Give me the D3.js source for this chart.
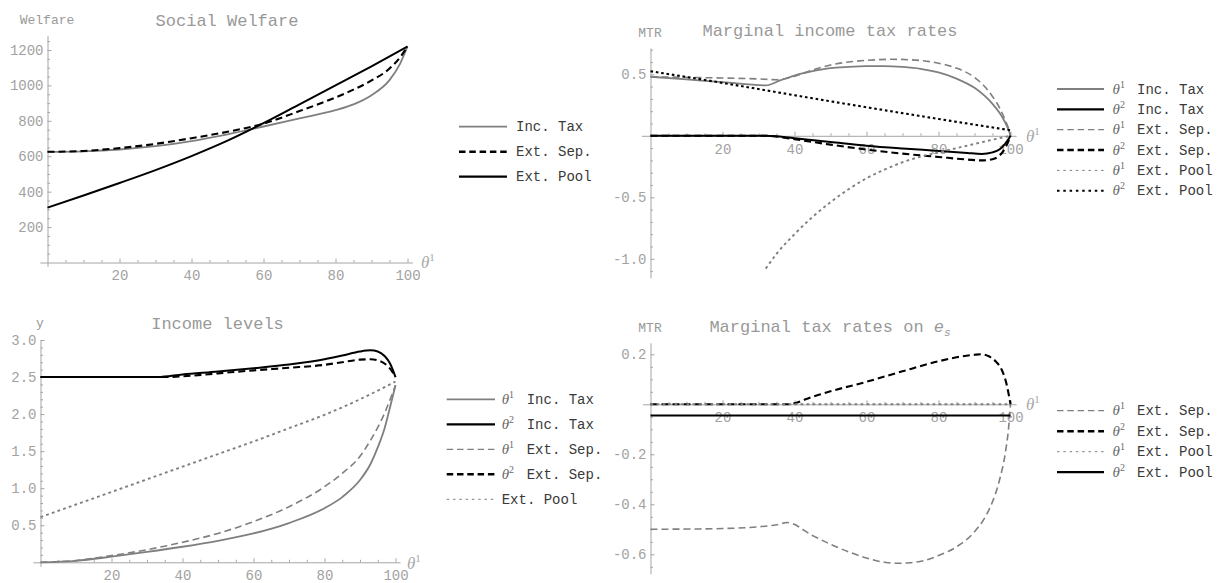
<!DOCTYPE html>
<html><head><meta charset="utf-8">
<script src="https://cdn.jsdelivr.net/npm/d3@7/dist/d3.min.js"></script>
<style>
body{margin:0;background:#fff;}
svg text{font-family:"Liberation Mono","Courier New",monospace;}
</style></head><body>
<svg id="c" width="1218" height="583"></svg>
<script>
// ---------------- DATA ----------------
const xMajorTicks = [20, 40, 60, 80, 100];
const welfareYTicks = [200, 400, 600, 800, 1000, 1200];
const mtrIncYTicks = [-1.0, -0.5, 0.5];
const incomeYTicks = [0.5, 1.0, 1.5, 2.0, 2.5, 3.0];
const mtrEsYTicks = [-0.6, -0.4, -0.2, 0.2];

// Panel 1: Social Welfare
const welfareIncTax = [[0,625],[10,628],[20,638],[30,657],[40,686],[50,724],[60,768],[70,814],[80,860],[85,893],[90,945],[95,1030],[98,1125],[100,1220]];
const welfareExtSep = [[0,625],[10,630],[20,646],[30,670],[40,702],[50,738],[60,784],[70,855],[80,932],[85,976],[90,1028],[95,1095],[98,1160],[100,1220]];
const welfareExtPool = [[0,310],[10,378],[20,449],[30,522],[40,601],[50,688],[60,787],[70,893],[80,1000],[90,1108],[100,1220]];

// Panel 2: Marginal income tax rates
const mtrIncTheta1 = [[0,0.48],[10,0.458],[20,0.436],[32,0.41],[36,0.45],[40,0.49],[45,0.525],[50,0.55],[55,0.56],[60,0.566],[65,0.567],[70,0.56],[75,0.545],[80,0.515],[85,0.465],[90,0.39],[93,0.32],[95,0.26],[97,0.185],[98.5,0.11],[99.5,0.045],[100,0]];
const mtrIncTheta2 = [[0,0],[32,0],[40,-0.02],[50,-0.05],[60,-0.08],[70,-0.103],[80,-0.123],[88,-0.14],[92,-0.147],[95,-0.135],[97,-0.11],[98.5,-0.065],[99.5,-0.025],[100,0]];
const mtrSepTheta1 = [[0,0.48],[10,0.475],[20,0.47],[30,0.462],[35,0.456],[38,0.468],[40,0.485],[45,0.535],[50,0.575],[55,0.6],[60,0.613],[67,0.622],[75,0.612],[80,0.59],[85,0.55],[90,0.475],[93,0.395],[95,0.32],[97,0.225],[98.5,0.13],[99.5,0.055],[100,0]];
const mtrSepTheta2 = [[0,0],[32,0],[40,-0.028],[50,-0.072],[60,-0.112],[70,-0.145],[80,-0.172],[88,-0.193],[92,-0.2],[95,-0.19],[97,-0.16],[98.5,-0.1],[99.5,-0.04],[100,0]];
const mtrPoolTheta1 = [[32,-1.08],[35,-0.96],[40,-0.8],[45,-0.66],[50,-0.54],[55,-0.435],[60,-0.345],[65,-0.275],[70,-0.215],[75,-0.17],[80,-0.135],[85,-0.1],[90,-0.066],[95,-0.032],[100,0]];
const mtrPoolTheta2 = [[0,0.525],[20,0.43],[32,0.37],[40,0.33],[60,0.232],[80,0.137],[100,0.045]];

// Panel 3: Income levels
const incIncTheta1 = [[0,0],[10,0.02],[20,0.076],[30,0.14],[40,0.21],[50,0.29],[60,0.39],[70,0.53],[80,0.73],[85,0.88],[90,1.11],[93,1.33],[95,1.55],[97,1.82],[98.5,2.1],[100,2.39]];
const incIncTheta2 = [[0,2.5],[33,2.5],[40,2.535],[50,2.575],[60,2.62],[70,2.67],[80,2.74],[85,2.79],[90,2.845],[93,2.86],[95,2.845],[97,2.78],[98.5,2.68],[100,2.5]];
const incSepTheta1 = [[0,0],[10,0.025],[20,0.09],[30,0.17],[40,0.27],[50,0.39],[60,0.55],[70,0.75],[80,1.02],[85,1.2],[90,1.43],[93,1.65],[95,1.82],[97,2.02],[98.5,2.2],[100,2.39]];
const incSepTheta2 = [[0,2.5],[35,2.5],[40,2.51],[50,2.55],[60,2.59],[70,2.625],[80,2.665],[85,2.7],[90,2.735],[93,2.74],[95,2.725],[97,2.68],[98.5,2.61],[100,2.5]];
const incPool = [[0,0.61],[10,0.78],[20,0.95],[30,1.12],[40,1.29],[50,1.46],[60,1.63],[70,1.81],[80,1.99],[90,2.2],[100,2.44]];

// Panel 4: Marginal tax rates on e_s
const esSepTheta1 = [[0,-0.5],[10,-0.499],[20,-0.497],[30,-0.49],[35,-0.482],[38,-0.473],[45,-0.525],[50,-0.56],[55,-0.59],[60,-0.615],[65,-0.632],[68,-0.636],[72,-0.634],[76,-0.625],[80,-0.605],[85,-0.57],[90,-0.51],[93,-0.45],[95,-0.39],[97,-0.3],[98.5,-0.2],[99.5,-0.09],[100,0]];
const esSepTheta2 = [[0,0],[38,0],[45,0.03],[50,0.052],[60,0.09],[70,0.132],[80,0.172],[85,0.188],[90,0.198],[92,0.2],[94,0.192],[96,0.17],[97.5,0.14],[99,0.075],[100,0]];
const esPoolTheta1 = [[0,0],[50,0],[100,0]];
const esPoolTheta2 = [[0,-0.045],[50,-0.045],[100,-0.045]];

// legend labels
const welfareLegend = ["Inc. Tax", "Ext. Sep.", "Ext. Pool"];
const mtrIncLegend = ["Inc. Tax", "Inc. Tax", "Ext. Sep.", "Ext. Sep.", "Ext. Pool", "Ext. Pool"];
const incomeLegend = ["Inc. Tax", "Inc. Tax", "Ext. Sep.", "Ext. Sep.", "Ext. Pool"];
const mtrEsLegend = ["Ext. Sep.", "Ext. Sep.", "Ext. Pool", "Ext. Pool"];

// ---------------- STYLE ----------------
const GRAY = "#7f7f7f", AXC = "#a6a6a6", TXC = "#a2a2a2", TITLEC = "#999999";
const STY = {
  graySolid: {c: GRAY, w: 1.8, d: null, lw: 1.8, ld: null},
  blackSolid: {c: "#000", w: 2, d: null, lw: 2.2, ld: null},
  grayDash: {c: GRAY, w: 1.6, d: "7,4", lw: 1.3, ld: "6.5,3.8"},
  blackDash: {c: "#000", w: 2.1, d: "7,4", lw: 2.4, ld: "6.5,3.8"},
  grayDot: {c: GRAY, w: 1.9, d: "2.8,3.2", lw: 1, ld: "2.5,3.8"},
  blackDot: {c: "#000", w: 2.1, d: "2.6,2.8", lw: 2, ld: "2.5,3.8"}
};

const svg = d3.select("#c");

function drawPanel(cfg) {
  const x = d3.scaleLinear().domain([0, 100]).range(cfg.xr);
  const y = d3.scaleLinear().domain(cfg.yd).range(cfg.yr);
  const g = svg.append("g");

  g.append("line").attr("x1", x(cfg.xExt[0])).attr("x2", x(cfg.xExt[1]))
    .attr("y1", y(0) + 0.5).attr("y2", y(0) + 0.5).attr("stroke", AXC).attr("stroke-width", 1);
  g.append("line").attr("x1", x(0) + 0.5).attr("x2", x(0) + 0.5)
    .attr("y1", y(cfg.yExt[0])).attr("y2", y(cfg.yExt[1])).attr("stroke", AXC).attr("stroke-width", 1);

  function ax(gen, vals, size, fmt, pad, tr) {
    const a = g.append("g").attr("transform", tr)
      .call(gen.tickValues(vals).tickSizeInner(size).tickSizeOuter(0).tickPadding(pad).tickFormat(fmt));
    a.attr("font-family", null).attr("font-size", null);
    a.select(".domain").remove();
    a.selectAll("line").attr("stroke", AXC);
    a.selectAll("text").attr("fill", TXC).style("font-size", "14px");
  }
  const xMinor = d3.range(5, 100, 5).filter(v => v % 20 !== 0);
  ax(d3.axisBottom(x), xMajorTicks, -4, d => String(d), 8, `translate(0,${y(0)})`);
  ax(d3.axisBottom(x), xMinor, -2.5, () => "", 8, `translate(0,${y(0)})`);
  ax(d3.axisLeft(y), cfg.yTicks, -4, cfg.yFmt, 4, `translate(${x(0)},0)`);
  ax(d3.axisLeft(y), cfg.yMinor, -2.5, () => "", 4, `translate(${x(0)},0)`);

  // series
  const line = d3.line().x(d => x(d[0])).y(d => y(d[1])).curve(d3.curveMonotoneX);
  cfg.series.forEach(s => {
    const st = STY[s.style];
    g.append("path").datum(s.data).attr("d", line).attr("fill", "none")
      .attr("stroke", st.c).attr("stroke-width", st.w)
      .attr("stroke-dasharray", st.d).attr("stroke-linejoin", "round");
  });

  // title & axis labels
  const t = g.append("text").attr("x", cfg.title.x).attr("y", cfg.title.y)
    .attr("text-anchor", "middle").attr("fill", TITLEC).style("font-size", "17px");
  if (cfg.title.parts) {
    cfg.title.parts.forEach(p => {
      const ts = t.append("tspan").text(p.t);
      if (p.it) ts.style("font-style", "italic");
      if (p.sub) ts.style("font-size", "11px").attr("dy", 4);
    });
  } else t.text(cfg.title.text);
  g.append("text").attr("x", cfg.ylab.x).attr("y", cfg.ylab.y).attr("text-anchor", "middle")
    .attr("fill", TITLEC).style("font-size", "13px").text(cfg.ylab.text);
  const th = g.append("text").attr("x", cfg.xlab.x).attr("y", cfg.xlab.y).attr("fill", "#a8a8a8")
    .style("font-family", "'Liberation Serif',serif").style("font-style", "italic").style("font-size", "17px");
  th.append("tspan").text("θ");
  th.append("tspan").text("1").style("font-style", "normal").style("font-size", "11px").attr("dy", -7);

  // legend
  const L = cfg.legend;
  cfg.series.forEach((s, i) => {
    const st = STY[s.style];
    const yy = L.y0 + i * L.dy;
    g.append("line").attr("x1", L.x1).attr("x2", L.x2).attr("y1", yy).attr("y2", yy)
      .attr("stroke", st.c).attr("stroke-width", st.lw).attr("stroke-dasharray", st.ld);
    let tx = L.tx;
    if (s.th) {
      const tt = g.append("text").attr("x", L.tx).attr("y", yy + 4.5).attr("fill", "#6a6a6a")
        .style("font-family", "'Liberation Serif',serif").style("font-style", "italic").style("font-size", "15px");
      tt.append("tspan").text("θ");
      tt.append("tspan").text(String(s.th)).style("font-style", "normal").style("font-size", "10px").attr("dy", -6);
      tx = L.tx + L.lab;
    }
    g.append("text").attr("x", tx).attr("y", yy + 4.5).attr("fill", "#3a3a3a")
      .style("font-size", "14px").text(s.label);
  });
}

const f1 = d => d.toFixed(1);
const ser = (data, style, label, th) => ({data, style, label, th});

drawPanel({
  xr: [47.5, 407.5], yd: [0, 1200], yr: [262.5, 50], xExt: [-2, 101.5], yExt: [-25, 1280],
  yTicks: welfareYTicks, yFmt: d => String(d),
  yMinor: d3.range(50, 1300, 50).filter(v => v % 200 !== 0),
  title: {x: 227, y: 26, text: "Social Welfare"},
  ylab: {x: 47, y: 24, text: "Welfare"},
  xlab: {x: 421, y: 268},
  legend: {y0: 126.7, dy: 25, x1: 459, x2: 507, tx: 516, lab: 0},
  series: [
    ser(welfareIncTax, "graySolid", welfareLegend[0]),
    ser(welfareExtSep, "blackDash", welfareLegend[1]),
    ser(welfareExtPool, "blackSolid", welfareLegend[2])
  ]
});

drawPanel({
  xr: [650.5, 1010.5], yd: [-1, 0.5], yr: [258.8, 74.3], xExt: [-2.4, 101.7], yExt: [-1.16, 0.71],
  yTicks: mtrIncYTicks, yFmt: f1,
  yMinor: d3.range(-11, 8).map(i => i / 10).filter(v => ![-1, -0.5, 0, 0.5].includes(v)),
  title: {x: 830, y: 35.5, text: "Marginal income tax rates"},
  ylab: {x: 650, y: 36.5, text: "MTR"},
  xlab: {x: 1026, y: 141.5},
  legend: {y0: 89, dy: 20.35, x1: 1057, x2: 1104, tx: 1112.5, lab: 24.5},
  series: [
    ser(mtrIncTheta1, "graySolid", mtrIncLegend[0], 1),
    ser(mtrIncTheta2, "blackSolid", mtrIncLegend[1], 2),
    ser(mtrSepTheta1, "grayDash", mtrIncLegend[2], 1),
    ser(mtrSepTheta2, "blackDash", mtrIncLegend[3], 2),
    ser(mtrPoolTheta1, "grayDot", mtrIncLegend[4], 1),
    ser(mtrPoolTheta2, "blackDot", mtrIncLegend[5], 2)
  ]
});

drawPanel({
  xr: [40.5, 395.5], yd: [0, 3], yr: [562.3, 340], xExt: [-2, 101.4], yExt: [-0.06, 3.0],
  yTicks: incomeYTicks, yFmt: f1,
  yMinor: d3.range(1, 30).map(i => i / 10).filter(v => Math.round(v * 10) % 5 !== 0),
  title: {x: 217.5, y: 328.5, text: "Income levels"},
  ylab: {x: 40, y: 327, text: "y"},
  xlab: {x: 407, y: 568.5},
  legend: {y0: 399.3, dy: 25, x1: 446.7, x2: 495, tx: 501.7, lab: 25},
  series: [
    ser(incIncTheta1, "graySolid", incomeLegend[0], 1),
    ser(incIncTheta2, "blackSolid", incomeLegend[1], 2),
    ser(incSepTheta1, "grayDash", incomeLegend[2], 1),
    ser(incSepTheta2, "blackDash", incomeLegend[3], 2),
    ser(incPool, "grayDot", incomeLegend[4])
  ]
});

drawPanel({
  xr: [650.5, 1010.5], yd: [-0.6, 0.2], yr: [554.3, 354.3], xExt: [-2.1, 101.7], yExt: [-0.68, 0.244],
  yTicks: mtrEsYTicks, yFmt: f1,
  yMinor: d3.range(-13, 5).map(i => i / 20).filter(v => Math.round(v * 20) % 4 !== 0),
  title: {x: 830, y: 331.5, parts: [{t: "Marginal tax rates on "}, {t: "e", it: true}, {t: "s", it: true, sub: true}]},
  ylab: {x: 650, y: 331.5, text: "MTR"},
  xlab: {x: 1026, y: 410},
  legend: {y0: 410.7, dy: 20.5, x1: 1057, x2: 1104, tx: 1112.5, lab: 24.5},
  series: [
    ser(esSepTheta1, "grayDash", mtrEsLegend[0], 1),
    ser(esSepTheta2, "blackDash", mtrEsLegend[1], 2),
    ser(esPoolTheta1, "grayDot", mtrEsLegend[2], 1),
    ser(esPoolTheta2, "blackSolid", mtrEsLegend[3], 2)
  ]
});
</script>
</body></html>
